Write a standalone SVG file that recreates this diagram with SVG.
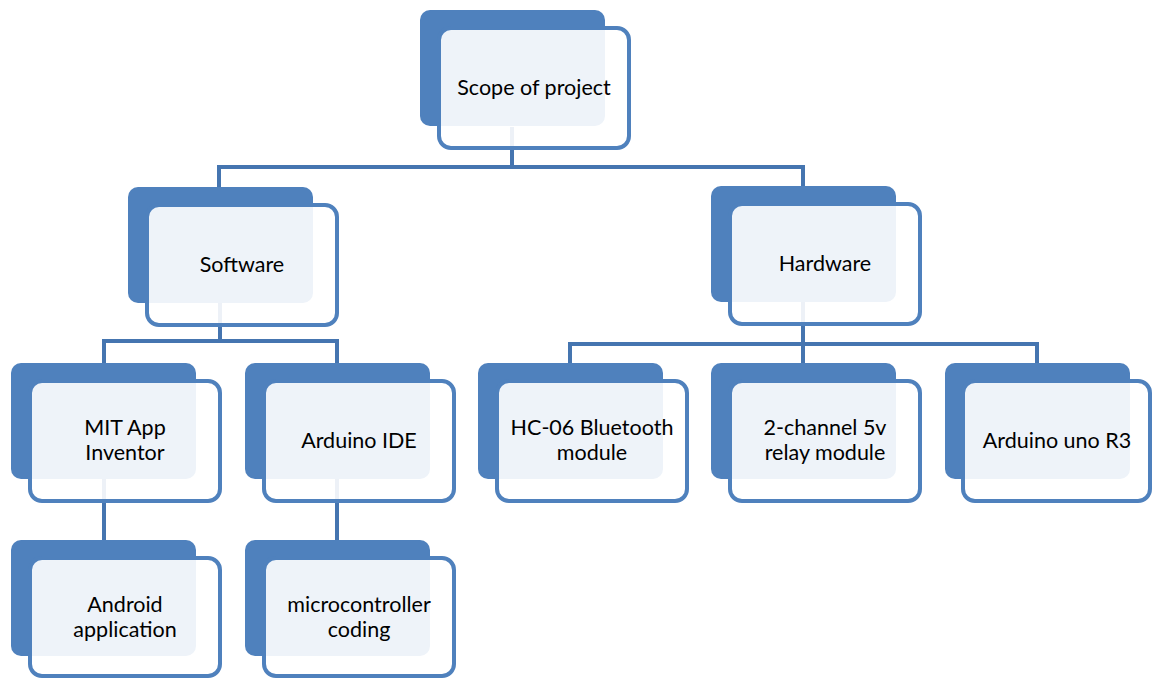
<svg xmlns="http://www.w3.org/2000/svg" width="1153" height="679" viewBox="0 0 1153 679">
<style>
.back{fill:#4F81BD;}
.front{fill:#FFFFFF;fill-opacity:0.9;stroke:#4F81BD;stroke-width:4;}
.conn{fill:none;stroke:#4575B0;stroke-width:4;}
text{font-family:Lato,"Open Sans","Liberation Sans",sans-serif;font-size:21.5px;fill:#000;text-anchor:middle;}
</style>
<rect width="1153" height="679" fill="#FFFFFF"/>
<g id="connectors">
<path class="conn" d="M512,127 V167 M219,187 V167 H803 V186"/>
<path class="conn" d="M220,303 V341 M104,363 V341 H337 V363"/>
<path class="conn" d="M803,302 V344 M570,363 V344 H1037 V363 M803,344 V363"/>
<path class="conn" d="M104,479 V540"/>
<path class="conn" d="M337,479 V540"/>
</g>
<g id="n-scope">
<rect class="back" x="420" y="10" width="185" height="116" rx="10"/>
<rect class="front" x="439" y="28" width="190" height="120" rx="12"/>
<text x="534" y="95">Scope of project</text>
</g>
<g id="n-software">
<rect class="back" x="128" y="187" width="185" height="116" rx="10"/>
<rect class="front" x="147" y="205" width="190" height="120" rx="12"/>
<text x="242" y="272">Software</text>
</g>
<g id="n-hardware">
<rect class="back" x="711" y="186" width="185" height="116" rx="10"/>
<rect class="front" x="730" y="204" width="190" height="120" rx="12"/>
<text x="825" y="271">Hardware</text>
</g>
<g id="n-mit">
<rect class="back" x="11" y="363" width="185" height="116" rx="10"/>
<rect class="front" x="30" y="381" width="190" height="120" rx="12"/>
<text x="125" y="435">MIT App</text>
<text x="125" y="460">Inventor</text>
</g>
<g id="n-ide">
<rect class="back" x="245" y="363" width="185" height="116" rx="10"/>
<rect class="front" x="264" y="381" width="190" height="120" rx="12"/>
<text x="359" y="448">Arduino IDE</text>
</g>
<g id="n-hc06">
<rect class="back" x="478" y="363" width="185" height="116" rx="10"/>
<rect class="front" x="497" y="381" width="190" height="120" rx="12"/>
<text x="592" y="435">HC-06 Bluetooth</text>
<text x="592" y="460">module</text>
</g>
<g id="n-relay">
<rect class="back" x="711" y="363" width="185" height="116" rx="10"/>
<rect class="front" x="730" y="381" width="190" height="120" rx="12"/>
<text x="825" y="435">2-channel 5v</text>
<text x="825" y="460">relay module</text>
</g>
<g id="n-uno">
<rect class="back" x="945" y="363" width="185" height="116" rx="10"/>
<rect class="front" x="963" y="381" width="187" height="120" rx="12"/>
<text x="1057" y="448">Arduino uno R3</text>
</g>
<g id="n-android">
<rect class="back" x="11" y="540" width="185" height="116" rx="10"/>
<rect class="front" x="30" y="558" width="190" height="118" rx="12"/>
<text x="125" y="612">Android</text>
<text x="125" y="637">application</text>
</g>
<g id="n-micro">
<rect class="back" x="245" y="540" width="185" height="116" rx="10"/>
<rect class="front" x="264" y="558" width="190" height="118" rx="12"/>
<text x="359" y="612">microcontroller</text>
<text x="359" y="637">coding</text>
</g>
</svg>
